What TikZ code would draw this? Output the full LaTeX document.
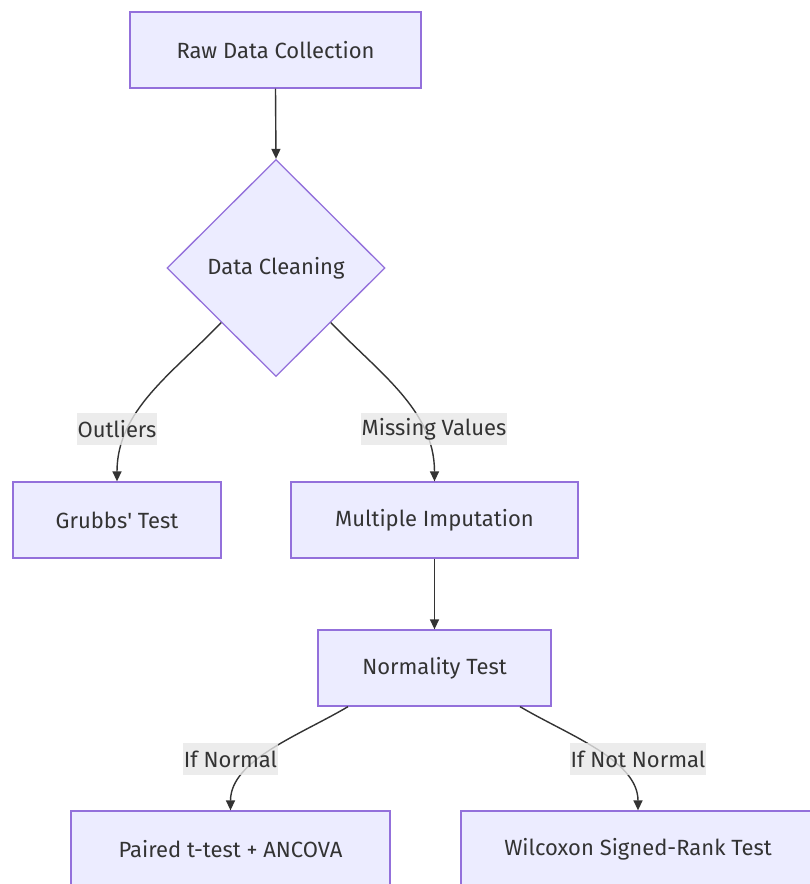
\documentclass[tikz,border=0pt]{standalone}
\usepackage{fontspec}
\setmainfont{Fira Sans}
\usetikzlibrary{shapes.geometric,arrows.meta}
\definecolor{nodefill}{HTML}{ECECFF}
\definecolor{nodeline}{HTML}{9370DB}
\definecolor{ink}{HTML}{333333}
\definecolor{lblbg}{HTML}{E8E8E8}
\begin{document}
\begin{tikzpicture}[x=1pt,y=-1pt,
  box/.style={draw=nodeline, fill=nodefill, line width=1.3pt, text=ink,
    font=\fontsize{22}{26}\selectfont, inner sep=0pt, minimum height=76pt},
  decision/.style={box, shape=diamond, minimum width=218pt, minimum height=217pt},
  edge/.style={draw=ink, line width=1.4pt, -{Triangle[length=10pt,width=9pt]}},
  lbl/.style={fill=lblbg, fill opacity=0.8, text opacity=1, text=ink,
    font=\fontsize{22}{26}\selectfont, inner xsep=0.5pt, inner ysep=0pt, minimum height=32pt}]
\useasboundingbox (0,0) rectangle (810,884);
\clip (0,0) rectangle (810,884);
\fill[white] (0,0) rectangle (810,884);

\node[box, minimum width=291pt] (raw) at (275.5,50) {Raw Data Collection};
\node[decision] (clean) at (276,268) {Data Cleaning};
\node[box, minimum width=208pt] (grubbs) at (117,520) {Grubbs\textquotesingle{} Test};
\node[box, minimum width=287pt] (mi) at (434.5,520) {Multiple Imputation};
\node[box, minimum width=233pt] (norm) at (434.5,668) {Normality Test};
\node[box, minimum width=319pt] (paired) at (230.5,849) {Paired t-test + ANCOVA};
\node[box, minimum width=354pt] (wil) at (638,849) {Wilcoxon Signed-Rank Test};

\draw[edge] (raw.south) -- (clean.north);
\draw[edge] (clean.south west) .. controls (173,373) and (117,410) .. (grubbs.north);
\draw[edge] (clean.south east) .. controls (379,373) and (434.5,410) .. (mi.north);
\draw[edge] (mi.south) -- (norm.north);
\draw[edge] (norm.south west -| 348,0) .. controls (300,735) and (230.5,760) .. (paired.north);
\draw[edge] (norm.south east -| 520,0) .. controls (568,735) and (638,760) .. (wil.north);

\node[lbl] (l1) at (117,429) {Outliers};
\node[lbl] (l2) at (434,429) {Missing Values};
\node[lbl] (l3) at (230.5,759) {If Normal};
\node[lbl] (l4) at (638,759) {If Not Normal};
\end{tikzpicture}
\end{document}
